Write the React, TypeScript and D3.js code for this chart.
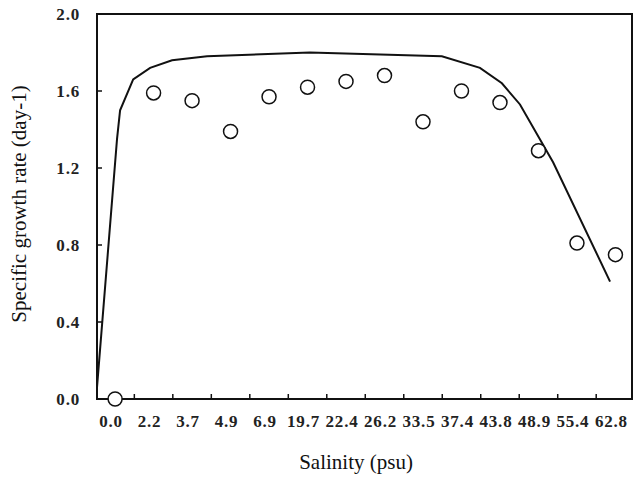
import React from "react";
import * as d3 from "d3";

// salinity treatments (psu), shown as evenly spaced categories
const salinity = ["0.0", "2.2", "3.7", "4.9", "6.9", "19.7", "22.4", "26.2", "33.5", "37.4", "43.8", "48.9", "55.4", "62.8"];
// observed specific growth rate (day-1)
const observed = [0.0, 1.59, 1.55, 1.39, 1.57, 1.62, 1.65, 1.68, 1.44, 1.6, 1.54, 1.29, 0.81, 0.75];

// fitted curve, x given as position along the category axis
const fitPos = [-0.47, 0.05, 0.13, 0.47, 0.91, 1.48, 2.39, 5.06, 8.49, 9.48, 10.05, 10.52, 11.38, 12.86];
const fitRate = [0.06, 1.35, 1.5, 1.66, 1.72, 1.76, 1.78, 1.8, 1.78, 1.72, 1.64, 1.53, 1.23, 0.61];

const yTicks = [0.0, 0.4, 0.8, 1.2, 1.6, 2.0];

export default function App() {
  const width = 633, height = 477;
  const margin = { top: 14, right: 1, bottom: 78, left: 97 };
  const x0 = margin.left, x1 = width - margin.right;
  const y0 = height - margin.bottom, y1 = margin.top;

  const x = d3.scaleLinear().domain([-0.47, 13.43]).range([x0, x1]);
  const y = d3.scaleLinear().domain([0, 2]).range([y0, y1]);

  const fit = d3.line<number>()
    .x((d, i) => x(fitPos[i]))
    .y(d => y(d));

  const font = "'Liberation Serif', 'Times New Roman', serif";

  return (
    <svg width={width} height={height}
      style={{ position: "absolute", left: 0, top: 0, background: "#fff" }}>
      {/* frame */}
      <rect x={x0} y={y1} width={x1 - x0} height={y0 - y1}
        fill="none" stroke="#111" strokeWidth={2} />

      {/* y ticks */}
      {yTicks.map(t => (
        <g key={"y" + t}>
          <line x1={x0} x2={x0 + 5} y1={y(t)} y2={y(t)} stroke="#111" strokeWidth={1.5} />
          <text x={80} y={y(t)} dy="0.35em" textAnchor="end" letterSpacing={0.8}
            fontFamily={font} fontSize={17} fontWeight="bold" fill="#222">{t.toFixed(1)}</text>
        </g>
      ))}

      {/* x ticks between categories */}
      {salinity.slice(1).map((s, i) => (
        <line key={"xt" + s} x1={x(i + 0.5)} x2={x(i + 0.5)} y1={y0} y2={y0 - 5}
          stroke="#111" strokeWidth={1.5} />
      ))}
      {salinity.map((s, i) => (
        <text key={"xl" + s} x={x(i) - 4} y={427} textAnchor="middle" letterSpacing={0.8}
          fontFamily={font} fontSize={17} fontWeight="bold" fill="#222">{s}</text>
      ))}

      {/* fitted curve */}
      <path d={fit(fitRate) || ""} fill="none" stroke="#111" strokeWidth={2} />

      {/* observations */}
      {observed.map((v, i) => (
        <circle key={"p" + i} cx={x(i)} cy={y(v)} r={7}
          fill="#fff" stroke="#111" strokeWidth={1.5} />
      ))}

      {/* axis titles */}
      <text x={356} y={469} textAnchor="middle" fontFamily={font} fontSize={21} fill="#111">
        Salinity (psu)
      </text>
      <text transform={`translate(26,${(78 + 330) / 2}) rotate(-90)`} textAnchor="middle"
        fontFamily={font} fontSize={21} fill="#111">
        Specific growth rate (day-1)
      </text>
    </svg>
  );
}
